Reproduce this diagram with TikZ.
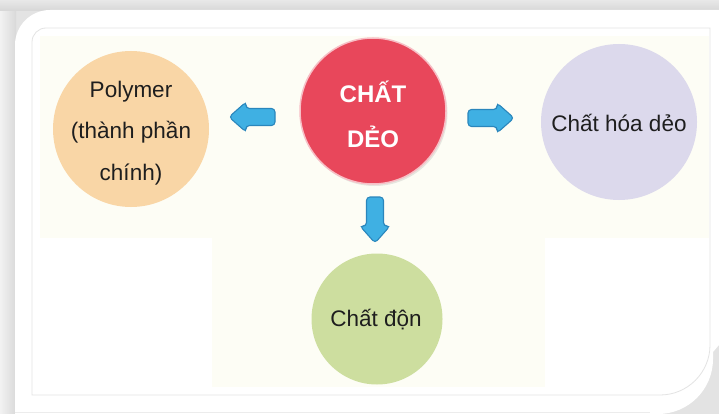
\documentclass[tikz,border=0pt]{standalone}
\usepackage{fontspec}
\setmainfont{Liberation Sans}
\usetikzlibrary{shadows}
\definecolor{peach}{HTML}{F9D6A6}
\definecolor{rosered}{HTML}{E8475B}
\definecolor{lavender}{HTML}{DCD9EC}
\definecolor{leaf}{HTML}{CDDE9F}
\definecolor{arrowblue}{HTML}{3FB0E3}
\definecolor{arrowedge}{HTML}{2A86BC}
\definecolor{cream}{HTML}{FDFDF5}
\definecolor{inktext}{HTML}{1E1E1E}
\tikzset{
  bubble/.style={circle, inner sep=0pt},
  bubbletext/.style={inner sep=0pt, align=center, text=inktext,
    font=\fontsize{22.5}{41.5}\selectfont},
  blockarrow/.pic={\filldraw[fill=arrowblue, draw=arrowedge, line width=1.1pt,
    rounded corners=3.5pt] (-23,-8.5) -- (6,-8.5) -- (6,-15) -- (23,0) --
    (6,15) -- (6,8.5) -- (-23,8.5) -- cycle;}
}
\begin{document}
\begin{tikzpicture}[x=1pt,y=-1pt]
\useasboundingbox (0,0) rectangle (719,414);
% outer grey background
\fill[gray!22] (0,0) rectangle (719,414);
\shade[left color=gray!10, right color=gray!30] (0,0) rectangle (16,414);
\shade[top color=gray!18, bottom color=gray!32] (0,0) rectangle (719,11);
% white frame
\fill[white] (15,414) -- (15,45) .. controls (15,25.7) and (30.7,10) .. (50,10)
  -- (719,10) -- (719,345) -- (713,352) -- (713,359)
  .. controls (713,389.4) and (688.4,414) .. (658,414) -- cycle;
\draw[gray!15, line width=0.6pt] (15,412) -- (650,412);
% cream panels
\fill[cream] (40,36) rectangle (709,238);
\fill[cream] (212,238) rectangle (545,387);
% inner border
\draw[gray!22, line width=0.8pt] (32,395) -- (32,42) .. controls (32,34.3) and (38.3,28) .. (46,28)
  -- (710,28) -- (710,345) .. controls (710,372.6) and (687.6,395) .. (660,395) -- cycle;
% circles
\node[bubble, fill=peach, minimum size=156pt] (poly) at (131,129) {};
\node[bubbletext] (polytext) at (131,133) {Polymer\\(thành phần\\chính)};
\node[bubble, fill=rosered, draw=rosered!35!white, line width=1.5pt,
  minimum size=146pt, drop shadow={opacity=0.18, shadow xshift=1.5pt, shadow yshift=-2pt}]
  (core) at (373,111) {};
\node[inner sep=0pt, text=white, align=center, font=\fontsize{24}{45}\selectfont\bfseries]
  (coretext) at (373,114) {CHẤT\\DẺO};
\node[bubble, fill=lavender, minimum size=156pt] (plast) at (619,122) {};
\node[bubbletext] (plasttext) at (619,123) {Chất hóa dẻo};
\node[bubble, fill=leaf, minimum size=131pt] (fill) at (377,319) {};
\node[bubbletext] (filltext) at (376,320) {Chất độn};
% arrows
\coordinate (la) at (252,117);
\coordinate (ra) at (491,118);
\coordinate (da) at (375,220);
\pic[rotate=180] at (la) {blockarrow};
\pic at (ra) {blockarrow};
\pic[rotate=-90] at (da) {blockarrow};
\end{tikzpicture}
\end{document}
